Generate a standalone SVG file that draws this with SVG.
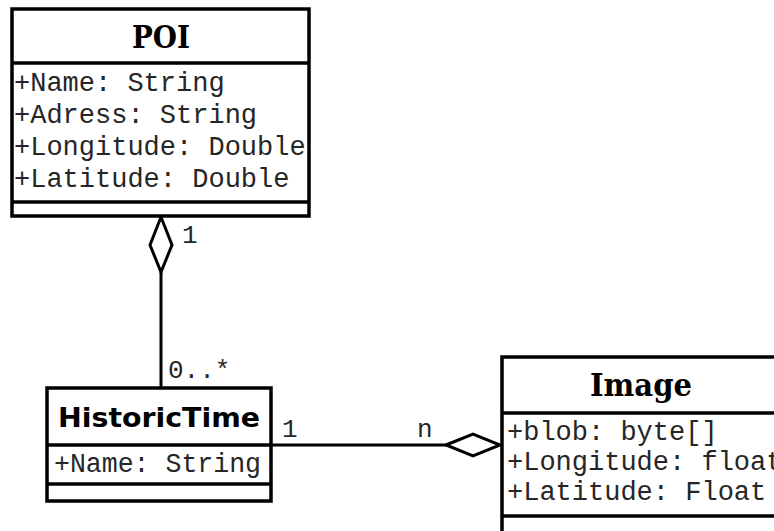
<svg xmlns="http://www.w3.org/2000/svg" width="774" height="531" viewBox="0 0 774 531">
  <style>
    .box { fill: #ffffff; stroke: #000000; stroke-width: 3.5; }
    .sep { stroke: #000000; stroke-width: 3.5; }
    .title-serif { font-family: "DejaVu Serif", "Liberation Serif", serif; font-weight: bold; font-size: 32px; fill: #000; text-anchor: middle; }
    .title-sans { font-family: "DejaVu Sans", "Liberation Sans", sans-serif; font-weight: bold; font-size: 27px; fill: #000; text-anchor: middle; }
    .attr { font-family: "Liberation Mono", "Courier New", monospace; font-size: 27px; fill: #262626; }
    .mult { font-family: "Liberation Mono", "Courier New", monospace; font-size: 26px; fill: #262626; }
    .edge { fill: none; stroke: #000000; stroke-width: 3; }
    .diamond { fill: #ffffff; stroke: #000000; stroke-width: 3; stroke-linejoin: miter; }
  </style>
  <rect width="774" height="531" fill="#ffffff"/>

  <!-- associations -->
  <g id="connectors">
    <line class="edge" x1="161" y1="272" x2="161" y2="388"/>
    <polygon class="diamond" points="161,217 172,245 161,272 150,245"/>
    <line class="edge" x1="271" y1="445" x2="446" y2="445"/>
    <polygon class="diamond" points="446,445 473,434 500,445 473,456"/>
    <text class="mult" x="182" y="243">1</text>
    <text class="mult" x="168" y="378">0..*</text>
    <text class="mult" x="282" y="437">1</text>
    <text class="mult" x="417" y="437">n</text>
  </g>

  <!-- class POI -->
  <g id="poi">
    <rect class="box" x="12" y="9" width="297" height="207"/>
    <line class="sep" x1="12" y1="63" x2="309" y2="63"/>
    <line class="sep" x1="12" y1="202" x2="309" y2="202"/>
    <text class="title-serif" x="161" y="48" textLength="58" lengthAdjust="spacingAndGlyphs">POI</text>
    <text class="attr" x="14" y="91">+Name: String</text>
    <text class="attr" x="14" y="123">+Adress: String</text>
    <text class="attr" x="14" y="155">+Longitude: Double</text>
    <text class="attr" x="14" y="187">+Latitude: Double</text>
  </g>

  <!-- class HistoricTime -->
  <g id="historictime">
    <rect class="box" x="47" y="388" width="224" height="113"/>
    <line class="sep" x1="47" y1="445" x2="271" y2="445"/>
    <line class="sep" x1="47" y1="484" x2="271" y2="484"/>
    <text class="title-sans" x="159" y="427" textLength="202" lengthAdjust="spacingAndGlyphs">HistoricTime</text>
    <text class="attr" x="54" y="472" textLength="207" lengthAdjust="spacingAndGlyphs">+Name: String</text>
  </g>

  <!-- class Image (runs past the right edge of the canvas) -->
  <g id="image">
    <rect class="box" x="502" y="357" width="280" height="200"/>
    <line class="sep" x1="502" y1="413" x2="782" y2="413"/>
    <line class="sep" x1="502" y1="516" x2="782" y2="516"/>
    <text class="title-serif" x="641" y="396" textLength="102" lengthAdjust="spacingAndGlyphs">Image</text>
    <text class="attr" x="507" y="440">+blob: byte[]</text>
    <text class="attr" x="507" y="470">+Longitude: float</text>
    <text class="attr" x="507" y="500">+Latitude: Float</text>
  </g>
</svg>
